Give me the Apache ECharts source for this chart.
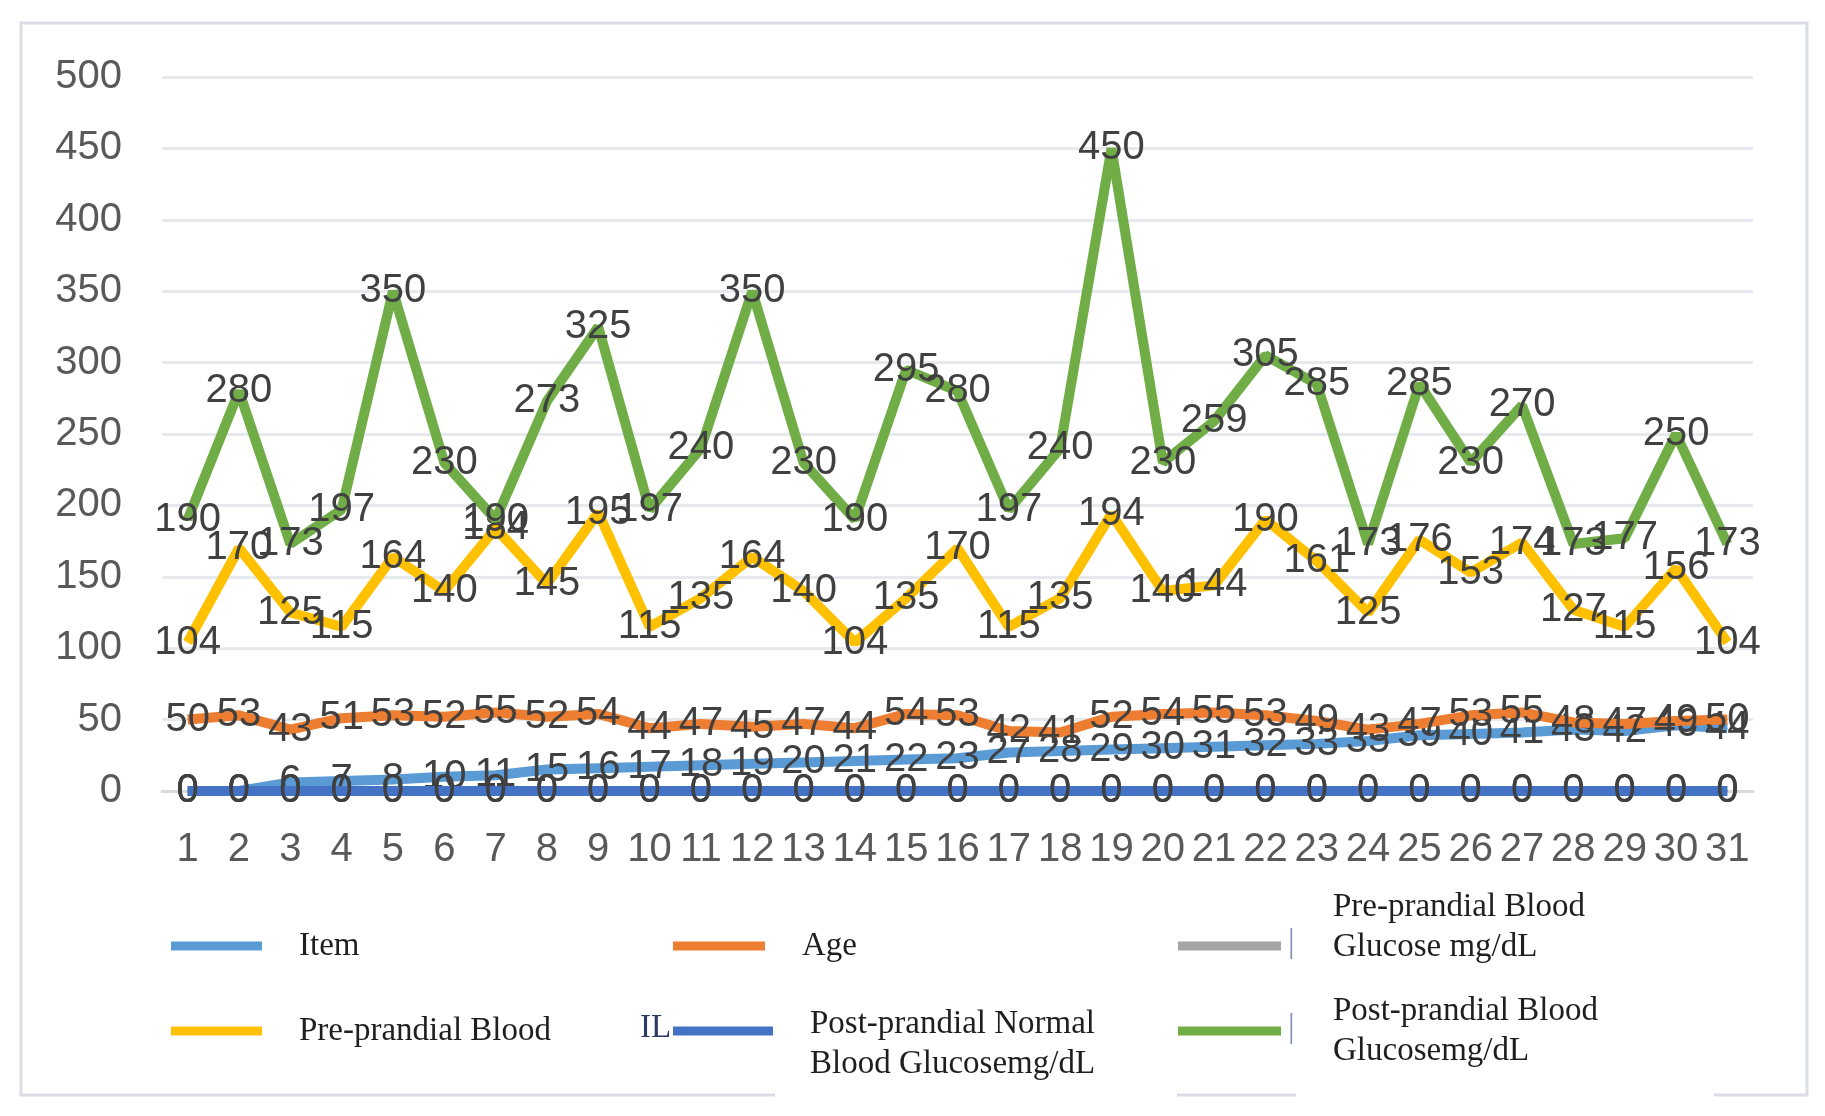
<!DOCTYPE html>
<html>
<head>
<meta charset="utf-8">
<script src="https://cdn.jsdelivr.net/npm/echarts@6/dist/echarts.min.js"></script>
<style>
html,body{margin:0;padding:0;background:#fff;}
#chart{width:1825px;height:1116px;}
</style>
</head>
<body>
<div id="chart"></div>
<script>
// ---- data ----
const categories = ['1','2','3','4','5','6','7','8','9','10','11','12','13','14','15','16','17','18','19','20','21','22','23','24','25','26','27','28','29','30','31'];
const yTicks = [0,50,100,150,200,250,300,350,400,450,500];
const itemValues = [0,0,6,7,8,10,11,15,16,17,18,19,20,21,22,23,27,28,29,30,31,32,33,35,39,40,41,43,42,46,44];
const ageValues = [50,53,43,51,53,52,55,52,54,44,47,45,47,44,54,53,42,41,52,54,55,53,49,43,47,53,55,48,47,49,50];
const prePrandialGlucose = [0,0,0,0,0,0,0,0,0,0,0,0,0,0,0,0,0,0,0,0,0,0,0,0,0,0,0,0,0,0,0];
const prePrandialBlood = [104,170,125,115,164,140,184,145,195,115,135,164,140,104,135,170,115,135,194,140,144,190,161,125,176,153,174,127,115,156,104];
const postNormalGlucose = [0,0,0,0,0,0,0,0,0,0,0,0,0,0,0,0,0,0,0,0,0,0,0,0,0,0,0,0,0,0,0];
const postPrandialGlucose = [190,280,173,197,350,230,190,273,325,197,240,350,230,190,295,280,197,240,450,230,259,305,285,173,285,230,270,173,177,250,173];

const seriesNames = ['Item','Age','Pre-prandial Blood Glucose mg/dL','Pre-prandial Blood','Post-prandial Normal Blood Glucosemg/dL','Post-prandial Blood Glucosemg/dL'];
const legendText = {
  'Item':'{t|Item}',
  'Age':'{t|Age}',
  'Pre-prandial Blood Glucose mg/dL':'{t|Pre-prandial Blood}\n{t|Glucose mg/dL}\n{e| }',
  'Pre-prandial Blood':'{t|Pre-prandial Blood}',
  'Post-prandial Normal Blood Glucosemg/dL':'{s| }\n{t|Post-prandial Normal}\n{t|Blood Glucosemg/dL}',
  'Post-prandial Blood Glucosemg/dL':'{t|Post-prandial Blood}\n{t|Glucosemg/dL}'
};
const seriesData = [itemValues, ageValues, prePrandialGlucose, prePrandialBlood, postNormalGlucose, postPrandialGlucose];
const colors = ['#5B9BD5','#ED7D31','#A5A5A5','#FFC000','#4472C4','#70AD47'];

const chart = echarts.init(document.getElementById('chart'));

const legendPos = [
  {left:171, top:926, w:91, gap:37},
  {left:673, top:926, w:92, gap:37},
  {left:1178, top:887, w:103, gap:52},
  {left:171, top:1011, w:91, gap:37},
  {left:673, top:978, w:100, gap:37},
  {left:1178, top:991, w:103, gap:52}
];

const legends = seriesNames.map((n,i)=>({
  data:[n],
  left:legendPos[i].left,
  top:legendPos[i].top,
  itemWidth:legendPos[i].w,
  itemHeight:9,
  itemGap:0,
  padding:0,
  icon:'rect',
  selectedMode:false,
  formatter:(name)=>legendText[name],
  textStyle:{
    fontFamily:'Liberation Serif',
    fontSize:33,
    lineHeight:40,
    color:'#1f1f1f',
    padding:[0,0,0,legendPos[i].gap-5],
    rich:{
      t:{fontFamily:'Liberation Serif', fontSize:33, lineHeight:40, color:'#1f1f1f'},
      e:{fontSize:10, lineHeight:38},
      s:{fontSize:10, lineHeight:26}
    }
  }
}));

const option = {
  backgroundColor:'#fff',
  animation:false,
  color:colors,
  grid:{left:162, right:72, top:77, bottom:325, containLabel:false},
  legend:legends,
  xAxis:{
    type:'category',
    data:categories,
    boundaryGap:true,
    axisLine:{show:true, lineStyle:{color:'#D9D9D9', width:3}},
    axisTick:{show:false},
    axisLabel:{fontFamily:'Liberation Sans', fontSize:40, color:'#595959', margin:39, interval:0}
  },
  yAxis:{
    type:'value',
    min:0, max:500, interval:50,
    axisLine:{show:false},
    axisTick:{show:false},
    splitLine:{lineStyle:{color:'#E6E9EE', width:3}},
    axisLabel:{fontFamily:'Liberation Sans', fontSize:40, color:'#595959', margin:40,
      formatter:(v)=> yTicks.indexOf(v) >= 0 ? String(v) : ''}
  },
  series: seriesNames.map((n,i)=>({
    name:n,
    type:'line',
    data:seriesData[i],
    symbol:'circle',
    symbolSize:1,
    showSymbol:true,
    itemStyle:{color:colors[i]},
    lineStyle:{width:10, color:colors[i]},
    z:2+i,
    label:{
      show:true,
      position:'inside',
      fontFamily:'Liberation Sans',
      fontSize:40,
      color:'#404040'
    }
  })),
  graphic:[
    {type:'rect', z:-10, shape:{x:21, y:23, width:1786, height:1072}, style:{fill:'none', stroke:'#DADEE4', lineWidth:3}},
    {type:'rect', z:100, shape:{x:775, y:1089, width:402, height:12}, style:{fill:'#fff'}},
    {type:'rect', z:100, shape:{x:1296, y:1089, width:418, height:12}, style:{fill:'#fff'}},
    {type:'text', z:101, left:640, top:1012, style:{text:'IL', font:'33px "Liberation Serif"', fill:'#2a3a60'}},
    {type:'text', z:101, left:1288, top:927, style:{text:'|', font:'33px "Liberation Serif"', fill:'#8090b0'}},
    {type:'text', z:101, left:1288, top:1012, style:{text:'|', font:'33px "Liberation Serif"', fill:'#8090b0'}}
  ]
};
chart.setOption(option);
</script>
</body>
</html>
